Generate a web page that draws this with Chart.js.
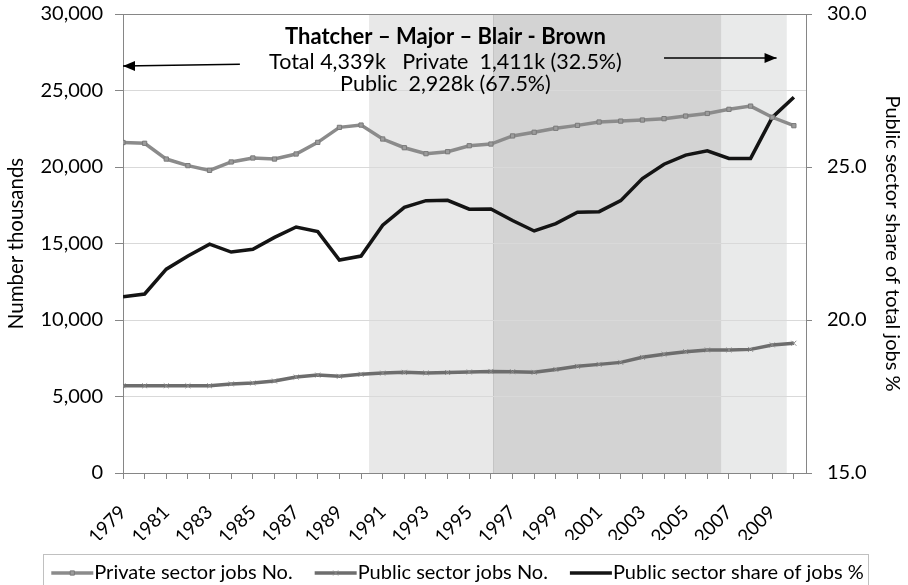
<!DOCTYPE html>
<html><head><meta charset="utf-8">
<script src="https://cdn.jsdelivr.net/npm/chart.js@4.4.1/dist/chart.umd.min.js"></script>
<style>html,body{margin:0;padding:0;background:#fff;}</style>
</head><body>
<canvas id="c" width="908" height="585" style="display:block;width:908px;height:585px"></canvas>
<script>
// ---------- data ----------
const years = [1979,1980,1981,1982,1983,1984,1985,1986,1987,1988,1989,1990,1991,1992,1993,1994,1995,1996,1997,1998,1999,2000,2001,2002,2003,2004,2005,2006,2007,2008,2009,2010];
const privateJobs = [21600,21550,20520,20090,19780,20330,20590,20520,20850,21610,22590,22740,21830,21260,20870,21000,21390,21500,22030,22270,22530,22720,22940,23000,23070,23160,23330,23500,23770,23980,23250,22700];
const publicJobs = [5700,5700,5700,5700,5700,5820,5880,6010,6270,6400,6320,6450,6530,6580,6540,6570,6600,6640,6620,6580,6770,6970,7100,7230,7560,7760,7930,8040,8040,8080,8370,8480];
const publicShare = [20.76,20.85,21.66,22.09,22.48,22.22,22.31,22.70,23.04,22.89,21.96,22.09,23.10,23.68,23.90,23.91,23.62,23.63,23.25,22.91,23.15,23.52,23.54,23.90,24.62,25.09,25.39,25.53,25.28,25.28,26.62,27.28];
const seriesNames = ['Private sector jobs No.','Public sector jobs No.','Public sector share of jobs %'];
const eraStart = [1990.37, 1996.1, 2006.66];
const eraEnd   = [1996.1, 2006.66, 2009.67];
const annotationTitle = 'Thatcher \u2013 Major \u2013 Blair - Brown';
const annotationLine2 = 'Total 4,339k   Private  1,411k (32.5%)';
const annotationLine3 = 'Public  2,928k (67.5%)';
const leftAxisTitle = 'Number thousands';
const rightAxisTitle = 'Public sector share of total jobs %';

// ---------- styles ----------
const FONT = 'Lato';
const eraColors = ['#e8e8e8', '#d3d3d3', '#e9eaea'];
const axisGray = '#868686';

Chart.defaults.font.family = FONT;
Chart.defaults.color = '#000';

const bgPlugin = {
  id: 'bg',
  beforeDraw(chart) {
    const {ctx, chartArea: a, scales: {x}} = chart;
    ctx.save();
    ctx.fillStyle = '#fff';
    ctx.fillRect(0, 0, chart.width, chart.height);
    eraStart.forEach((s, i) => {
      const x0 = x.getPixelForValue(s), x1 = x.getPixelForValue(eraEnd[i]);
      ctx.fillStyle = eraColors[i];
      ctx.fillRect(x0, a.top, x1 - x0, a.bottom - a.top);
    });
    ctx.strokeStyle = '#c4c4c4';
    ctx.lineWidth = 1;
    const xe = Math.round(x.getPixelForValue(eraStart[1])) + 0.5;
    ctx.beginPath(); ctx.moveTo(xe, a.top); ctx.lineTo(xe, a.bottom); ctx.stroke();
    ctx.restore();
  }
};

function arrow(ctx, x0, y0, x1, y1) {
  ctx.beginPath(); ctx.moveTo(x0, y0); ctx.lineTo(x1, y1); ctx.stroke();
  const dir = Math.sign(x1 - x0);
  ctx.beginPath();
  ctx.moveTo(x1, y1);
  ctx.lineTo(x1 - dir * 12, y1 - 5);
  ctx.lineTo(x1 - dir * 12, y1 + 5);
  ctx.closePath(); ctx.fill();
}

const overlayPlugin = {
  id: 'overlay',
  afterDraw(chart) {
    const {ctx, scales: {x, y}} = chart;
    ctx.save();
    ctx.fillStyle = '#000';
    ctx.textAlign = 'center';
    ctx.textBaseline = 'middle';
    const cx = x.getPixelForValue(1993.9);
    ctx.font = 'bold 22px ' + FONT;
    ctx.fillText(annotationTitle, cx, y.getPixelForValue(28500));
    ctx.font = '21.5px ' + FONT;
    ctx.fillText(annotationLine2, cx, y.getPixelForValue(26860));
    ctx.fillText(annotationLine3, cx, y.getPixelForValue(25420));
    ctx.strokeStyle = '#000'; ctx.lineWidth = 1.5;
    arrow(ctx, x.getPixelForValue(1984.4), y.getPixelForValue(26720), x.getPixelForValue(1979), y.getPixelForValue(26600));
    arrow(ctx, x.getPixelForValue(2004.0), y.getPixelForValue(27120), x.getPixelForValue(2009.2), y.getPixelForValue(27120));

    // legend
    const ds = chart.data.datasets;
    ctx.font = '20px ' + FONT;
    ctx.textAlign = 'left';
    const lineLen = 42, gap = 1, itemGap = 22;
    const widths = ds.map(d => ctx.measureText(d.label).width);
    const total = widths.reduce((s, w) => s + lineLen + gap + w, 0) + itemGap * (ds.length - 1);
    let lx = 457.5 - total / 2;
    const ly = 573;
    ctx.strokeStyle = '#c0c0c0'; ctx.lineWidth = 1;
    ctx.strokeRect(43.5, 554.5, 825, 40);
    ds.forEach((d, i) => {
      ctx.strokeStyle = d.borderColor; ctx.lineWidth = d.borderWidth;
      ctx.beginPath(); ctx.moveTo(lx, ly); ctx.lineTo(lx + lineLen, ly); ctx.stroke();
      if (d.pointRadius > 0) {
        ctx.fillStyle = d.pointBackgroundColor; ctx.strokeStyle = d.pointBorderColor;
        ctx.lineWidth = d.pointBorderWidth;
        Chart.helpers.drawPoint(ctx, {pointStyle: d.pointStyle, radius: d.pointRadius, borderWidth: d.pointBorderWidth, rotation: 0}, lx + lineLen / 2, ly);
      }
      ctx.fillStyle = '#000';
      ctx.fillText(d.label, lx + lineLen + gap, ly);
      lx += lineLen + gap + widths[i] + itemGap;
    });
    ctx.restore();
  }
};

new Chart(document.getElementById('c'), {
  type: 'line',
  data: {
    datasets: [
      {label: seriesNames[0], data: years.map((yr, i) => ({x: yr, y: privateJobs[i]})), yAxisID: 'y',
       borderColor: '#8b8b8b', borderWidth: 3.5, pointStyle: 'rect', pointRadius: 3,
       pointBackgroundColor: '#9c9c9c', pointBorderColor: '#7a7a7a', pointBorderWidth: 1, tension: 0},
      {label: seriesNames[1], data: years.map((yr, i) => ({x: yr, y: publicJobs[i]})), yAxisID: 'y',
       borderColor: '#6d6d6d', borderWidth: 3.5, pointStyle: 'crossRot', pointRadius: 3.5,
       pointBackgroundColor: '#8a8a8a', pointBorderColor: '#8a8a8a', pointBorderWidth: 1, tension: 0},
      {label: seriesNames[2], data: years.map((yr, i) => ({x: yr, y: publicShare[i]})), yAxisID: 'y1',
       borderColor: '#141414', borderWidth: 3.5, pointRadius: 0, tension: 0}
    ]
  },
  options: {
    responsive: false, animation: false, devicePixelRatio: 1,
    layout: {padding: {top: 14, bottom: 45, left: 0, right: 0}},
    plugins: {legend: {display: false}, tooltip: {enabled: false}},
    scales: {
      x: {type: 'linear', min: 1979, max: 2010.56, position: 'bottom',
          ticks: {stepSize: 1, autoSkip: false, includeBounds: false, maxRotation: 45, minRotation: 45,
                  callback: v => (v % 2 === 1 ? String(v) : ''), font: {size: 19}, color: '#000', padding: 22},
          grid: {drawOnChartArea: false, tickLength: 6, color: axisGray},
          border: {color: axisGray},
          afterFit: s => { s.height = 67; s.paddingLeft = 0; s.paddingRight = 0; }},
      y: {position: 'left', min: 0, max: 30000,
          ticks: {stepSize: 5000, callback: v => v.toLocaleString('en-US'), font: {size: 20}, color: '#000', padding: 12},
          grid: {color: c => (c.tick && c.tick.value === 30000 ? axisGray : '#d9d9d9'), tickColor: axisGray, tickLength: 8},
          border: {color: axisGray},
          title: {display: true, text: leftAxisTitle, font: {size: 20.5}, color: '#000'},
          afterFit: s => { s.width = 123; s.paddingTop = 0; s.paddingBottom = 0; }},
      y1: {position: 'right', min: 15, max: 30,
           ticks: {stepSize: 5, callback: v => v.toFixed(1), font: {size: 20}, color: '#000', padding: 15},
           grid: {drawOnChartArea: false, tickLength: 6, color: axisGray},
           border: {color: axisGray},
           title: {display: true, text: rightAxisTitle, font: {size: 20}, color: '#000'},
           afterFit: s => { s.width = 102; s.paddingTop = 0; s.paddingBottom = 0; }}
    }
  },
  plugins: [bgPlugin, overlayPlugin]
});
</script>
</body></html>
